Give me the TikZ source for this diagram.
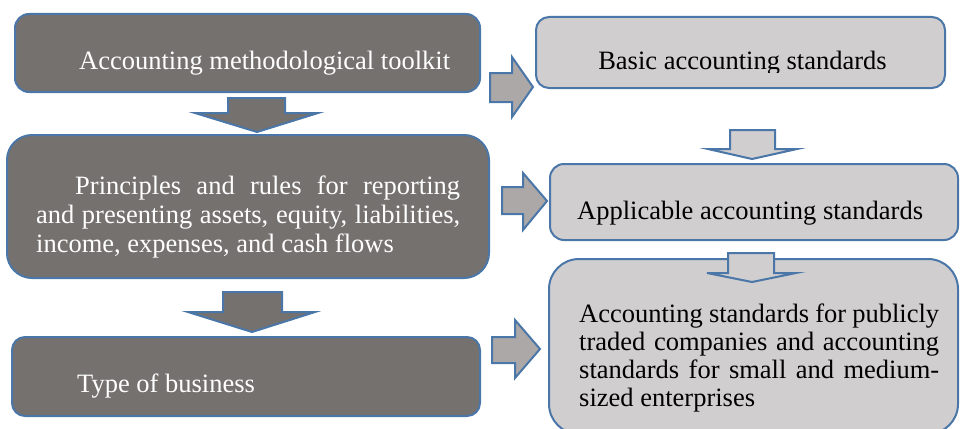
\documentclass[tikz,border=0pt]{standalone}
\usepackage{fontspec}
\setmainfont{Liberation Serif}
\definecolor{boxdark}{RGB}{117,113,111}
\definecolor{boxlight}{RGB}{208,206,207}
\definecolor{arrowmid}{RGB}{172,168,167}
\definecolor{edgeblue}{RGB}{74,118,168}
\tikzset{
  darkbox/.style={draw=edgeblue, line width=2pt, fill=boxdark, inner sep=0pt},
  lightbox/.style={draw=edgeblue, line width=2pt, fill=boxlight, inner sep=0pt},
  darktext/.style={inner sep=0pt, text=white, font=\fontsize{26.5}{29}\selectfont},
  lighttext/.style={inner sep=0pt, text=black, font=\fontsize{26.5}{28.3}\selectfont},
  arrowdark/.style={draw=edgeblue, line width=2pt, fill=boxdark},
  arrowgrey/.style={draw=edgeblue, line width=2pt, fill=arrowmid},
  arrowlight/.style={draw=edgeblue, line width=2pt, fill=boxlight},
}
\begin{document}
\begin{tikzpicture}[x=1pt,y=-1pt]
\useasboundingbox (0,0) rectangle (960,428);
% boxes
\node[darkbox, minimum width=465, minimum height=78, rounded corners=14] (A) at (247.5,53) {};
\node[darkbox, minimum width=482, minimum height=143, rounded corners=25] (B) at (248,206.5) {};
\node[darkbox, minimum width=468, minimum height=79, rounded corners=13] (C) at (246,376.5) {};
\node[lightbox, minimum width=409, minimum height=71, rounded corners=13] (D) at (740.5,52.5) {};
\node[lightbox, minimum width=408, minimum height=76, rounded corners=14] (E) at (754,202) {};
\node[lightbox, minimum width=409, minimum height=175, rounded corners=30] (F) at (753.5,346.5) {};
% texts
\node[darktext, anchor=base west] (tA) at (79,70) {Accounting methodological toolkit};
\node[darktext, anchor=base west] (tB) at (36,194) {\parbox[t]{424pt}{\hyphenpenalty=10000\hspace*{39pt}Principles and rules for reporting\linebreak and presenting assets, equity, liabilities,\linebreak income, expenses, and cash flows}};
\node[darktext, anchor=base west] (tC) at (77,392) {Type of business};
\begin{scope}
\clip (530,0) rectangle (960,72.5);
\node[lighttext, anchor=base] (tD) at (742.5,70) {Basic accounting standards};
\end{scope}
\node[lighttext, anchor=base west] (tE) at (577,219) {Applicable accounting standards};
\node[lighttext, anchor=base west] (tF) at (579,322) {\parbox[t]{360pt}{\hyphenpenalty=10000 Accounting standards for publicly\linebreak traded companies and accounting\linebreak standards for small and medium-\linebreak sized enterprises}};
% block arrows
\draw[arrowdark] (228,98) -- (285,98) -- (285,113) -- (318,113) -- (257,132) -- (195,113) -- (228,113) -- cycle;
\draw[arrowdark] (223,292) -- (282,292) -- (282,312) -- (315,312) -- (252,332) -- (188,312) -- (223,312) -- cycle;
\draw[arrowgrey] (490,73) -- (512,73) -- (512,57) -- (533,87) -- (512,117) -- (512,102) -- (490,102) -- cycle;
\draw[arrowgrey] (502,187) -- (523,187) -- (523,173) -- (547,201) -- (523,230) -- (523,214) -- (502,214) -- cycle;
\draw[arrowgrey] (492,337) -- (515,337) -- (515,320) -- (540,349) -- (515,378) -- (515,363) -- (492,363) -- cycle;
\draw[arrowlight] (730,130) -- (775,130) -- (775,149) -- (797,149) -- (752,159) -- (708,149) -- (730,149) -- cycle;
\draw[arrowlight] (728,253) -- (774,253) -- (774,273) -- (796,273) -- (752,282) -- (707,273) -- (728,273) -- cycle;
\end{tikzpicture}
\end{document}
